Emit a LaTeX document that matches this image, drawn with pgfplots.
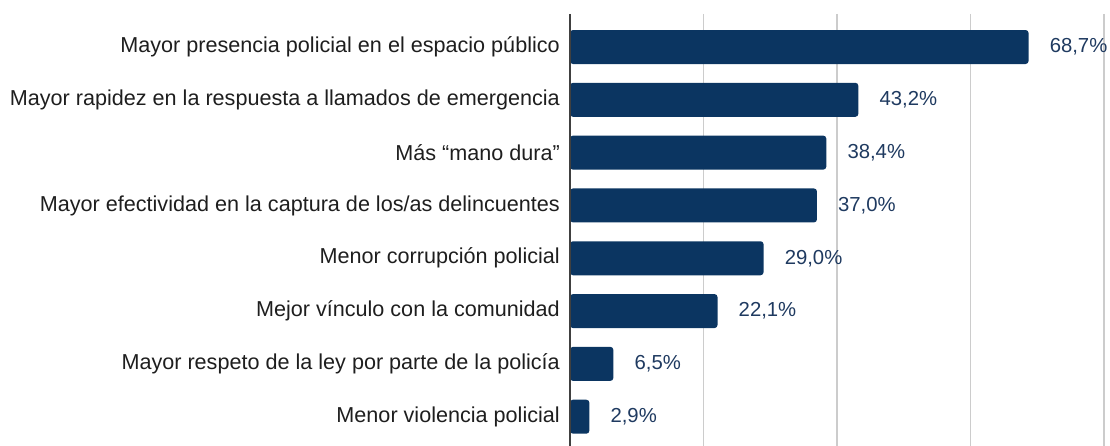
\documentclass[border=0pt]{standalone}
\usepackage{pgfplots}
\pgfplotsset{compat=1.18}
\usepackage{fontspec}
\setmainfont{Liberation Sans}
\definecolor{navy}{HTML}{0B3561}
\definecolor{lbl}{HTML}{1F3A60}
\definecolor{txt}{HTML}{1E1E1E}
\begin{document}
\begin{tikzpicture}
\begin{axis}[
  scale only axis, width=534pt, height=432pt,
  xmin=0, xmax=80, ymin=0.375, ymax=8.555, y dir=reverse,
  xtick={20,40,60,80}, xticklabels={},
  ytick={1,2,3,4,5,6,7,8},
  yticklabels={Mayor presencia policial en el espacio público,
    Mayor rapidez en la respuesta a llamados de emergencia,
    Más “mano dura”,
    Mayor efectividad en la captura de los/as delincuentes,
    Menor corrupción policial,
    Mejor vínculo con la comunidad,
    Mayor respeto de la ley por parte de la policía,
    Menor violencia policial},
  yticklabel style={font=\fontsize{21.6}{25}\selectfont, color=txt, inner sep=0pt, xshift=-10pt},
  major tick length=0pt,
  xmajorgrids, grid style={line width=1.2pt, color=black!20},
  axis line style={draw=none},
  clip=false,
  xbar, bar width=34pt,
  nodes near coords, point meta=explicit symbolic,
  nodes near coords style={anchor=west, inner sep=0pt, xshift=21pt, font=\fontsize{20.3}{24}\selectfont, color=lbl},
]
\addplot[fill=navy, draw=none, rounded corners=3pt] coordinates {
  (68.7,1) [68,7\%]
  (43.2,2) [43,2\%]
  (38.4,3) [38,4\%]
  (37.0,4) [37,0\%]
  (29.0,5) [29,0\%]
  (22.1,6) [22,1\%]
  (6.5,7) [6,5\%]
  (2.9,8) [2,9\%]
};
\draw[line width=1.4pt, color=black!75] (axis cs:0,0.375) -- (axis cs:0,8.555);
\end{axis}
\pgfresetboundingbox
\path (-570pt,0pt) rectangle (540pt,446pt);
\end{tikzpicture}
\end{document}
